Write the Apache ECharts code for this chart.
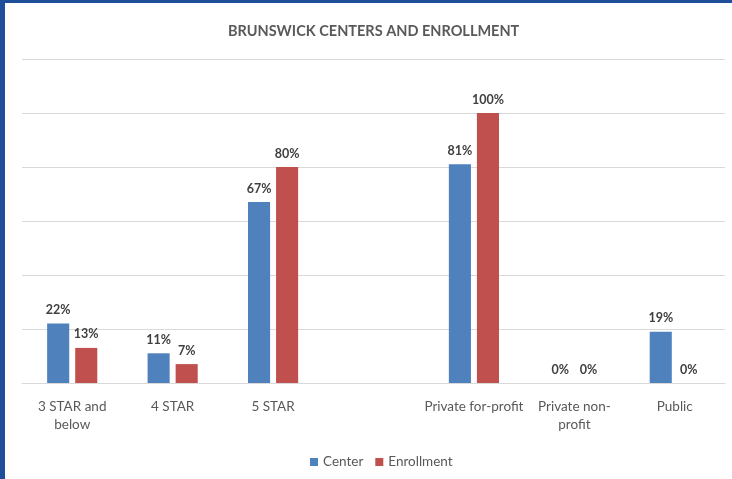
<!DOCTYPE html>
<html>
<head>
<meta charset="utf-8">
<script src="https://cdn.jsdelivr.net/npm/echarts@6/dist/echarts.min.js"></script>
<style>
html, body { margin: 0; padding: 0; background: #fff; }
#frame { position: absolute; left: 0; top: 0; width: 732px; height: 479px; box-sizing: border-box;
         border-left: 5px solid #1F4E9B; border-top: 3px solid #1F4E9B; }
#chart { position: absolute; left: 0; top: 0; width: 732px; height: 479px; }
</style>
</head>
<body>
<div id="chart"></div>
<div id="frame"></div>
<script>
// categories (empty slot between the star ratings and the ownership groups)
var categories = ['3 STAR and\nbelow', '4 STAR', '5 STAR', '', 'Private for-profit', 'Private non-\nprofit', 'Public'];
var centerValues = [22, 11, 67, '-', 81, 0, 19];
var enrollmentValues = [13, 7, 80, '-', 100, 0, 0];
var seriesNames = ['Center', 'Enrollment'];

var labelStyle = {
    show: true,
    position: 'top',
    distance: 7,
    formatter: '{c}%',
    fontFamily: 'Lato',
    fontWeight: 'bold',
    fontSize: 12.5,
    color: '#404040'
};

var myChart = echarts.init(document.getElementById('chart'));
var option = {
    animation: false,
    textStyle: { fontFamily: 'Lato' },
    title: {
        text: 'BRUNSWICK CENTERS AND ENROLLMENT',
        left: 223,
        top: 19,
        textStyle: { fontFamily: 'Lato', fontSize: 14.5, fontWeight: 'bold', color: '#595959' }
    },
    legend: {
        data: seriesNames,
        left: 305,
        top: 450,
        itemWidth: 8,
        itemHeight: 8,
        itemGap: 12,
        icon: 'rect',
        textStyle: { fontFamily: 'Lato', fontSize: 13.5, color: '#595959' }
    },
    grid: { left: 22, right: 7, top: 59, bottom: 96 },
    xAxis: {
        type: 'category',
        data: categories,
        axisLine: { show: true, lineStyle: { color: '#D9D9D9' } },
        axisTick: { show: false },
        axisLabel: { interval: 0, margin: 15, fontSize: 13.5, lineHeight: 18, color: '#595959', fontFamily: 'Lato' }
    },
    yAxis: {
        type: 'value',
        min: 0,
        max: 120,
        interval: 20,
        axisLabel: { show: false },
        axisLine: { show: false },
        axisTick: { show: false },
        splitLine: { lineStyle: { color: '#D9D9D9', width: 1 } }
    },
    series: [
        {
            name: seriesNames[0],
            type: 'bar',
            data: centerValues,
            barWidth: '22%',
            barGap: '27%',
            itemStyle: { color: '#4F81BD' },
            label: labelStyle
        },
        {
            name: seriesNames[1],
            type: 'bar',
            data: enrollmentValues,
            barWidth: '22%',
            itemStyle: { color: '#C0504D' },
            label: labelStyle
        }
    ]
};
myChart.setOption(option);
</script>
</body>
</html>
